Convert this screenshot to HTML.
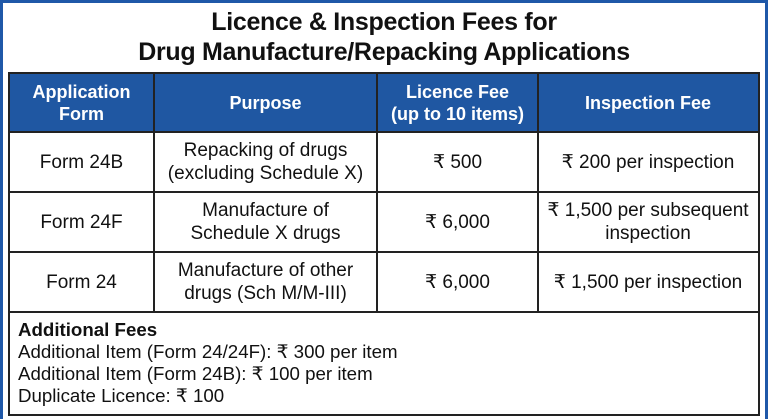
<!DOCTYPE html>
<html><head><meta charset="utf-8"><style>
*{margin:0;padding:0;box-sizing:border-box}
body{width:768px;height:419px;overflow:hidden;background:#fff;font-family:"Liberation Sans","DejaVu Sans",sans-serif;color:#111;position:relative}
.frame{position:absolute;left:0;top:0;width:768px;height:419px;border:3px solid #1f58a8;border-bottom:none}
.t{position:absolute;left:0;width:768px;text-align:center;font-weight:bold;font-size:25px;letter-spacing:-0.3px}
.c{position:absolute;display:flex;align-items:center;justify-content:center;text-align:center;line-height:23px;font-size:19px}
.h{background:#1f57a2;color:#fff;font-weight:bold;font-size:18px;line-height:22px}
.hl{position:absolute;background:#222;height:2px}
.vl{position:absolute;background:#222;width:2px}
.add{position:absolute;left:18px;top:319px;font-size:18.7px;line-height:22px}
</style></head><body>
<div class="frame"></div>
<div class="t" style="top:8px">Licence &amp; Inspection Fees for</div>
<div class="t" style="top:38px">Drug Manufacture/Repacking Applications</div>

<div class="c h" style="left:9px;top:73px;width:145px;height:59px">Application<br>Form</div>
<div class="c h" style="left:154px;top:73px;width:223px;height:59px">Purpose</div>
<div class="c h" style="left:377px;top:73px;width:161px;height:59px">Licence Fee<br>(up to 10 items)</div>
<div class="c h" style="left:538px;top:73px;width:220px;height:59px">Inspection Fee</div>

<div class="c" style="left:9px;top:132px;width:145px;height:60px">Form 24B</div>
<div class="c" style="left:154px;top:132px;width:223px;height:60px">Repacking of drugs<br>(excluding Schedule X)</div>
<div class="c" style="left:377px;top:132px;width:161px;height:60px">₹ 500</div>
<div class="c" style="left:538px;top:132px;width:220px;height:60px">₹ 200 per inspection</div>

<div class="c" style="left:9px;top:192px;width:145px;height:60px">Form 24F</div>
<div class="c" style="left:154px;top:192px;width:223px;height:60px">Manufacture of<br>Schedule X drugs</div>
<div class="c" style="left:377px;top:192px;width:161px;height:60px">₹ 6,000</div>
<div class="c" style="left:538px;top:192px;width:220px;height:60px">₹ 1,500 per subsequent<br>inspection</div>

<div class="c" style="left:9px;top:252px;width:145px;height:60px">Form 24</div>
<div class="c" style="left:154px;top:252px;width:223px;height:60px">Manufacture of other<br>drugs (Sch M/M-III)</div>
<div class="c" style="left:377px;top:252px;width:161px;height:60px">₹ 6,000</div>
<div class="c" style="left:538px;top:252px;width:220px;height:60px">₹ 1,500 per inspection</div>

<div class="hl" style="left:8px;top:72px;width:752px"></div>
<div class="hl" style="left:8px;top:131px;width:752px"></div>
<div class="hl" style="left:8px;top:191px;width:752px"></div>
<div class="hl" style="left:8px;top:251px;width:752px"></div>
<div class="hl" style="left:8px;top:311px;width:752px"></div>
<div class="hl" style="left:8px;top:414px;width:752px"></div>
<div class="vl" style="left:8px;top:72px;height:344px"></div>
<div class="vl" style="left:758px;top:72px;height:344px"></div>
<div class="vl" style="left:153px;top:72px;height:240px"></div>
<div class="vl" style="left:376px;top:72px;height:240px"></div>
<div class="vl" style="left:537px;top:72px;height:240px"></div>

<div class="add"><b>Additional Fees</b><br>Additional Item (Form 24/24F): ₹ 300 per item<br>Additional Item (Form 24B): ₹ 100 per item<br>Duplicate Licence: ₹ 100</div>
</body></html>
